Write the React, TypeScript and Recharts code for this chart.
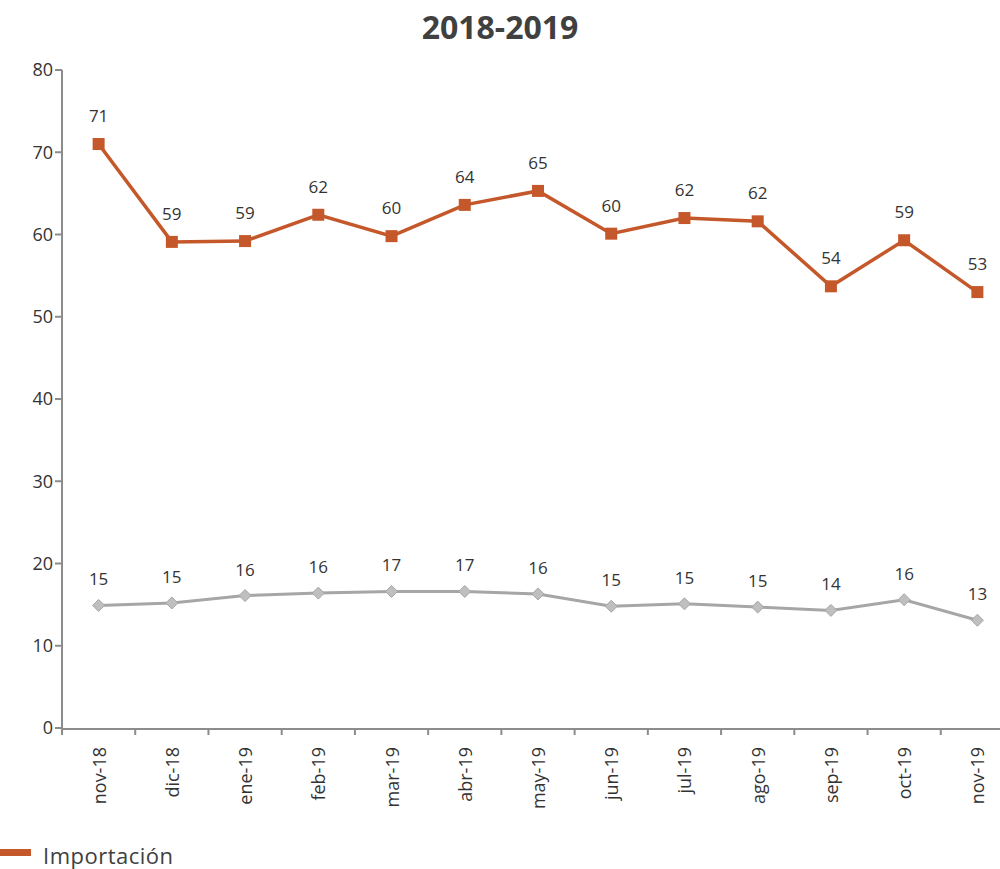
import { LineChart, Line, XAxis, YAxis, Legend, LabelList } from 'recharts';

// meses del periodo
const months = ['nov-18', 'dic-18', 'ene-19', 'feb-19', 'mar-19', 'abr-19', 'may-19', 'jun-19', 'jul-19', 'ago-19', 'sep-19', 'oct-19', 'nov-19'];

// serie naranja (Importación)
const importacion = [71.0, 59.1, 59.2, 62.4, 59.8, 63.6, 65.3, 60.1, 62.0, 61.6, 53.7, 59.3, 53.0];

// serie gris (sin leyenda visible)
const exportacion = [14.9, 15.2, 16.1, 16.4, 16.6, 16.6, 16.3, 14.8, 15.1, 14.7, 14.3, 15.6, 13.1];

const yTicks = [0, 10, 20, 30, 40, 50, 60, 70, 80];
// divisiones entre meses (estilo Excel)
const boundaryTicks = [0, 1, 2, 3, 4, 5, 6, 7, 8, 9, 10, 11, 12, 13];

const data = months.map((m, i) => ({ month: m, mid: i + 0.5, imp: importacion[i], exp: exportacion[i] }));

const ORANGE = '#C5582A';
const GRAY = '#A6A6A6';
const AXIS = '#8C8C8C';
const TEXT = '#333333';
const FONT = '"Open Sans", sans-serif';

const SquareDot = (props: any) => {
  const { cx, cy } = props;
  if (cx == null || cy == null) return null;
  return <rect x={cx - 6} y={cy - 6} width={12} height={12} fill={ORANGE} />;
};

const DiamondDot = (props: any) => {
  const { cx, cy } = props;
  if (cx == null || cy == null) return null;
  return (
    <polygon
      points={`${cx},${cy - 6} ${cx + 6},${cy} ${cx},${cy + 6} ${cx - 6},${cy}`}
      fill="#BFBFBF"
      stroke={GRAY}
      strokeWidth={1}
    />
  );
};

const MonthTick = (props: any) => {
  const { x, y, payload } = props;
  return (
    <text
      x={x}
      y={y + 10}
      transform={`rotate(-90, ${x}, ${y + 10})`}
      textAnchor="end"
      dominantBaseline="central"
      fontSize={18}
      fill={TEXT}
      fontFamily={FONT}
    >
      {payload.value}
    </text>
  );
};

const EmptyTick = () => <g />;

const LegendContent = () => (
  <div style={{ display: 'flex', alignItems: 'center', fontFamily: FONT, paddingTop: 14, width: 300 }}>
    <div style={{ width: 31, height: 7, background: ORANGE, marginRight: 12, marginTop: -6 }} />
    <span style={{ fontSize: 22, lineHeight: '26px', color: '#404040', whiteSpace: 'nowrap', letterSpacing: 0.5 }}>
      Importación
    </span>
  </div>
);

export default function App() {
  return (
    <div style={{ position: 'absolute', left: 0, top: 0, width: 1000, height: 869, overflow: 'hidden', background: '#fff' }}>
      <div
        style={{
          position: 'absolute',
          top: 5,
          left: 0,
          width: 1000,
          textAlign: 'center',
          fontFamily: FONT,
          fontWeight: 700,
          fontSize: 32,
          color: '#404040',
        }}
      >
        2018-2019
      </div>
      <LineChart width={1020} height={869} data={data} margin={{ top: 70, right: 6, left: 0, bottom: 0 }}>
        <XAxis
          xAxisId="a_bounds"
          dataKey="mid"
          type="number"
          domain={[0, 13]}
          ticks={boundaryTicks}
          height={1}
          tick={<EmptyTick />}
          axisLine={false}
          tickLine={{ stroke: AXIS, strokeWidth: 2 }}
          tickSize={7}
          allowDataOverflow
        />
        <XAxis
          xAxisId="z_month"
          dataKey="month"
          scale="band"
          height={99}
          tick={<MonthTick />}
          tickLine={false}
          axisLine={{ stroke: AXIS, strokeWidth: 2 }}
          interval={0}
        />
        <YAxis
          domain={[0, 80]}
          ticks={yTicks}
          width={62}
          tick={{ fontSize: 18, fill: TEXT, fontFamily: FONT }}
          tickLine={{ stroke: AXIS, strokeWidth: 2 }}
          tickSize={7}
          axisLine={{ stroke: AXIS, strokeWidth: 2 }}
        />
        <Legend
          verticalAlign="bottom"
          align="left"
          height={41}
          wrapperStyle={{ overflow: 'visible' }}
          content={<LegendContent />}
        />
        <Line
          xAxisId="a_bounds"
          dataKey="imp"
          stroke="none"
          dot={false}
          activeDot={false}
          legendType="none"
          isAnimationActive={false}
        />
        <Line
          xAxisId="z_month"
          dataKey="imp"
          name="Importación"
          stroke={ORANGE}
          strokeWidth={3.5}
          dot={<SquareDot />}
          activeDot={false}
          isAnimationActive={false}
        >
          <LabelList
            dataKey="imp"
            position="top"
            offset={22}
            formatter={(v: any) => Math.round(v)}
            style={{ fontSize: 17, fill: TEXT, fontFamily: FONT }}
          />
        </Line>
        <Line
          xAxisId="z_month"
          dataKey="exp"
          name="Exportación"
          stroke={GRAY}
          strokeWidth={3}
          dot={<DiamondDot />}
          activeDot={false}
          legendType="none"
          isAnimationActive={false}
        >
          <LabelList
            dataKey="exp"
            position="top"
            offset={20}
            formatter={(v: any) => Math.round(v)}
            style={{ fontSize: 17, fill: TEXT, fontFamily: FONT }}
          />
        </Line>
      </LineChart>
    </div>
  );
}
